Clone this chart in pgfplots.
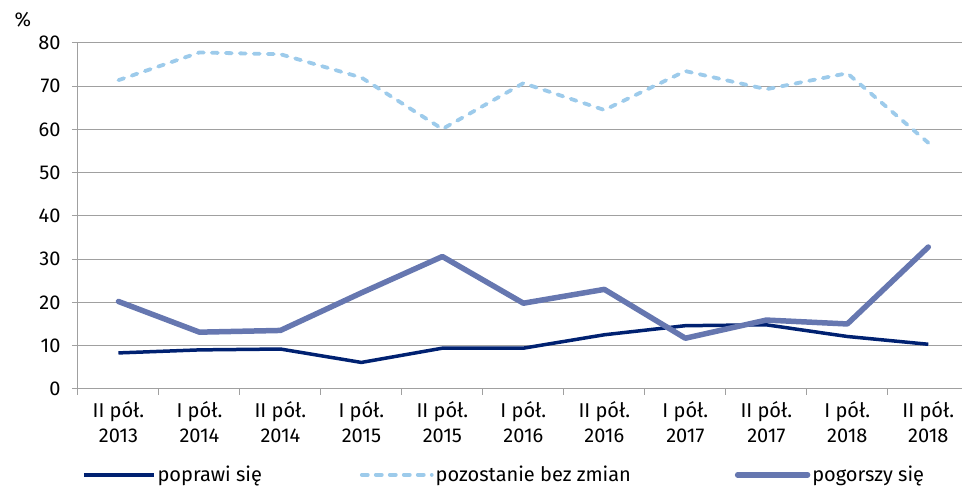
\documentclass[border=0pt]{standalone}
\usepackage{fontspec}
\setmainfont{Fira Sans}
\usepackage{pgfplots}
\pgfplotsset{compat=1.18}

\definecolor{lineA}{RGB}{0,33,113}
\definecolor{lineB}{RGB}{157,203,235}
\definecolor{lineC}{RGB}{102,119,176}
\definecolor{gridc}{RGB}{160,160,160}

\newcommand{\lblfont}{\fontsize{20}{25}\selectfont}

\begin{document}
\begin{tikzpicture}
\begin{axis}[
    scale only axis,
    width=884pt, height=346pt,
    xmin=-0.5, xmax=10.41,
    ymin=0, ymax=80,
    axis x line*=bottom, axis y line*=left,
    axis line style={-, draw=gridc, line width=1pt},
    ytick={0,10,...,80},
    ymajorgrids=true,
    grid style={gridc, line width=1pt},
    xtick={0,...,10},
    xticklabels={{II pół.\\2013},{I pół.\\2014},{II pół.\\2014},{I pół.\\2015},{II pół.\\2015},{I pół.\\2016},{II pół.\\2016},{I pół.\\2017},{II pół.\\2017},{I pół.\\2018},{II pół.\\2018}},
    minor xtick={-0.5,0.5,...,9.5},
    tick align=outside,
    major tick length=6pt, minor tick length=6pt,
    tick style={gridc, line width=1pt},
    major x tick style={draw=none},
    xticklabel style={align=center, font=\lblfont, text=black, yshift=-3pt},
    yticklabel style={font=\lblfont, text=black, xshift=-8pt},
    /pgf/number format/assume math mode=true,
    ylabel={\%},
    ylabel style={rotate=-90, at={(axis description cs:0,1)}, anchor=center, xshift=-55pt, yshift=23pt, font=\lblfont},
    legend columns=3,
    legend cell align=left,
    legend image code/.code={\draw[#1] (0pt,0pt) -- (70pt,0pt);},
    legend style={at={(axis description cs:0,0)}, anchor=west, xshift=1pt, yshift=-86pt,
        draw=none, fill=none, font=\lblfont,
        /tikz/column 2/.style={column sep=96pt},
        /tikz/column 4/.style={column sep=102pt}},
]
\coordinate (bl) at (rel axis cs:0,0);
\coordinate (tr) at (rel axis cs:1,1);

\addplot[lineA, line width=3.5pt, line join=round] coordinates {
    (0,8.3)(1,9.0)(2,9.2)(3,6.1)(4,9.4)(5,9.4)(6,12.5)(7,14.6)(8,14.8)(9,12.1)(10,10.3)
};
\addplot[lineB, line width=3.8pt, line cap=round, dash pattern=on 6pt off 8pt] coordinates {
    (0,71.4)(1,77.8)(2,77.4)(3,72.0)(4,60.1)(5,70.7)(6,64.5)(7,73.5)(8,69.3)(9,73.0)(10,56.9)
};
\addplot[lineC, line width=5.5pt, line join=round, line cap=round] coordinates {
    (0,20.2)(1,13.1)(2,13.5)(3,22.2)(4,30.6)(5,19.8)(6,23.0)(7,11.7)(8,15.9)(9,15.0)(10,32.8)
};
\legend{poprawi się, pozostanie bez zmian, pogorszy się}
\end{axis}
\path ([shift={(-78pt,-100pt)}]bl) rectangle ([shift={(0pt,43pt)}]tr);
\end{tikzpicture}
\end{document}
